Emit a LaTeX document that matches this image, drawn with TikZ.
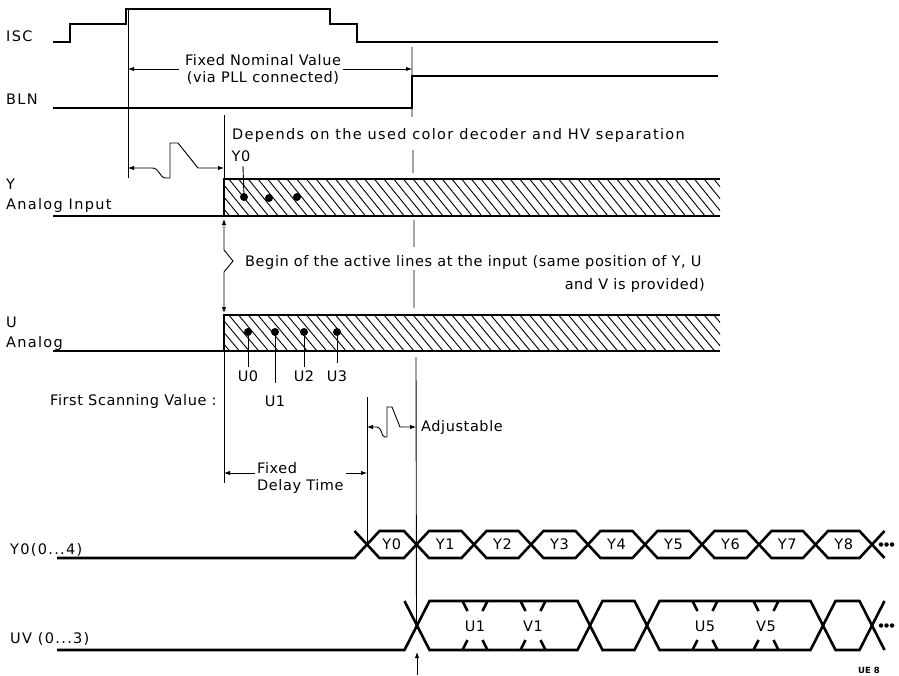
\documentclass[tikz,border=0pt]{standalone}
\usepackage{fontspec}
\setmainfont{DejaVu Sans}
\usetikzlibrary{arrows.meta,calc,positioning}

\begin{document}
\begin{tikzpicture}[x=1pt,y=-1pt,
  >={Latex[length=6pt,width=4.5pt]},
  wave/.style={line width=2.6pt,line join=miter},
  guide/.style={line width=0.9pt},
  dim/.style={guide,->},
  txt/.style={font=\fontsize{14.5}{17}\selectfont\addfontfeatures{LetterSpace=4},inner sep=0pt},
  wide/.style={txt,font=\fontsize{14.5}{17}\selectfont\addfontfeatures{LetterSpace=9}},
  lbl/.style={wide,anchor=base west},
  busdot/.style={circle,fill,inner sep=0pt,minimum size=4.5pt}
]
  \useasboundingbox (0,0) rectangle (899,676);

  % signal names
  \node[lbl] (isc) at (6,42) {ISC};
  \node[lbl] (bln) at (6,105) {BLN};
  \node[lbl] (ynm) at (6,190) {Y};
  \node[lbl] (yin) at (6,210) {Analog Input};
  \node[lbl] (unm) at (6,327) {U};
  \node[lbl] (uin) at (6,347) {Analog};
  \node[lbl] (ybus) at (10,554) {Y0(0...4)};
  \node[lbl] (uvbus) at (10,643) {UV (0...3)};

  % ISC and BLN
  \draw[wave] (53,42) -- (70,42) -- (70,24) -- (126,24) -- (126,9) -- (330,9)
    -- (330,24) -- (357,24) -- (357,42) -- (718,42);
  \draw[wave] (53,108) -- (412,108) -- (412,76) -- (718,76);

  % hatched input bands
  \foreach \t/\b in {179/216,315/351} {
    \begin{scope}
      \clip (224,\t) rectangle (720,\b);
      \foreach \x in {190,199.7,...,720}
        \draw[guide] (\x,\t) -- ++(30,{\b-\t});
    \end{scope}
    \draw[wave] (720,\t) -| (224,\b);
    \draw[wave] (53,\b) -- (720,\b);
  }

  % guide lines
  \draw[guide] (128,9) -- (128,178);
  \draw[guide] (224,115) -- (224,179);
  \draw[guide] (224,351) -- (224,483);
  \draw[guide] (367,397) -- (367,544.5);
  \draw[guide] (412,47) -- (412,117) (413,150) -- (413,173) (414,220) -- (414,247)
    (414,270) -- (414,308) (416,357) -- (416.5,625.5);

  % fixed nominal value
  \coordinate (nomL) at (128,69);
  \coordinate (nomR) at (412,69);
  \node[txt,align=center] (fnv) at (263,69) {Fixed Nominal Value\\(via PLL connected)};
  \draw[dim,shorten <=6pt] (fnv.west |- nomL) -- (nomL);
  \draw[dim,shorten <=2pt] (fnv.east |- nomR) -- (nomR);

  % break between ISC edge and input start
  \draw[guide,<->] (128,168) -- (152,168) .. controls (160,168) and (159,178) .. (166,178)
    -- (170,178) -- (170,143) -- (178,143) -- (198,168) -- (224,168);

  \node[lbl] (dep) at (232,140) {Depends on the used color decoder and HV separation};
  \node[txt,anchor=base] (y0pin) at (241,162) {Y0};
  \draw[guide] (243,166) -- (244,197);
  \foreach \x/\y in {244/197,269/198,297/197}
    \fill (\x,\y) circle (4pt);

  % same start of Y, U and V
  \draw[guide,<->] (224,219) -- (224,250) -- (233,261) -- (224,272) -- (224,313);
  \node[txt,anchor=base west] (beg) at (245,267) {Begin of the active lines at the input (same position of Y, U};
  \node[txt,anchor=base east] (beg2) at (705,290) {and V is provided)};

  % U sampling points
  \foreach \n/\x/\e/\l in {0/248/367/381,1/275/383/406,2/304/367/381,3/337/363/381} {
    \draw[guide] (\x,332) -- (\x,\e);
    \fill (\x,332) circle (4pt);
    \node[txt,anchor=base] (u\n) at (\x,\l) {U\n};
  }
  \node[txt,anchor=base west] (fsv) at (50,405) {First Scanning Value :};

  % adjustable part
  \draw[guide,<->] (367,427) -- (377,427) .. controls (382,427) and (381,437) .. (385,437)
    -- (387,437) -- (387,407) -- (392,407) -- (400,427) -- (416,427);
  \node[txt,anchor=west] (adj) at (421,427) {Adjustable};

  % fixed delay
  \coordinate (dlyL) at (224,473);
  \coordinate (dlyR) at (367,473);
  \node[txt,anchor=west,align=left] (fdt) at (257,478) {Fixed\\Delay Time};
  \draw[dim,shorten <=2pt] (fdt.west |- dlyL) -- (dlyL);
  \draw[dim,shorten <=2pt] (fdt.east |- dlyR) -- (dlyR);

  % Y0 ... Y4 bus
  \draw[wave] (57,558) -- (354.5,558) -- (367,544.5) -- (354.5,531);
  \foreach \a/\b [count=\i from 0] in {367/416.5,416.5/474,474/531,531/588,588/645,645/702,702/759,759/815.5,815.5/872} {
    \draw[wave] (\a,544.5) -- ({\a+12.5},531) -- ({\b-12.5},531) -- (\b,544.5)
      -- ({\b-12.5},558) -- ({\a+12.5},558) -- cycle;
    \node[txt] (y\i) at ({(\a+\b)/2},544.5) {Y\i};
  }
  \draw[wave] (884.5,531) -- (872,544.5) -- (884.5,558);
  \foreach \x in {881,886.5,892} \node[busdot] at (\x,544.5) {};

  % UV bus
  \draw[wave] (57,650) -- (404.5,650) -- (417,625.5) -- (404.5,601);
  \foreach \a/\b in {417/590,590/647,647/823,823/872}
    \draw[wave] (\a,625.5) -- ({\a+12.5},601) -- ({\b-12.5},601) -- (\b,625.5)
      -- ({\b-12.5},650) -- ({\a+12.5},650) -- cycle;
  \draw[wave] (884.5,601) -- (872,625.5) -- (884.5,650);
  \foreach \x in {881,886.5,892} \node[busdot] at (\x,625.5) {};
  \foreach \c/\s in {475/U1,533/V1,705/U5,766/V5} {
    \draw[wave] ({\c-12.5},601) -- ({\c-7.5},611) ({\c+12.5},601) -- ({\c+7.5},611)
      ({\c-12.5},650) -- ({\c-7.5},640) ({\c+12.5},650) -- ({\c+7.5},640);
    \node[txt] (\s) at (\c,626) {\s};
  }
  \coordinate (uvmark) at (417,675);
  \draw[guide,->] (uvmark) -- (417,652);

  \node[font=\bfseries\fontsize{8.5}{10}\selectfont,inner sep=0pt] (ue) at (869,670) {UE 8};
\end{tikzpicture}
\end{document}
